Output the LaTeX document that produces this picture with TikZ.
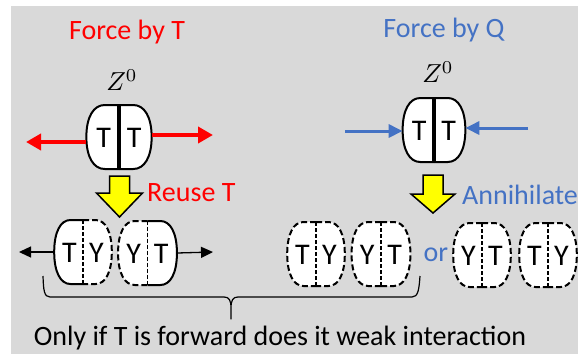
\documentclass[tikz,border=0pt]{standalone}
\usepackage{fontspec}
\setmainfont{Carlito}
\usetikzlibrary{arrows.meta}
\definecolor{qblue}{HTML}{4472C4}
\definecolor{bggray}{HTML}{D9D9D9}
\definecolor{tyellow}{HTML}{FFFF00}
\tikzset{
  solidedge/.style={draw=black, fill=white, line width=2pt},
  dashededge/.style={draw=black, fill=white, line width=2pt, dash pattern=on 6pt off 3pt},
  thickdiv/.style={line width=3.5pt},
  dashdiv/.style={line width=1.5pt, dash pattern=on 4pt off 2pt},
  letter/.style={font=\fontsize{30}{32}\selectfont, inner sep=0pt},
  big/.style={font=\fontsize{28}{30}\selectfont, inner sep=0pt},
  zlabel/.style={inner sep=0pt},
  yarrow/.style={draw=black, fill=tyellow, line width=1.5pt, line join=miter},
  redarrow/.style={red, line width=4pt, -{Triangle[length=15pt,width=16pt]}},
  bluearrow/.style={qblue, line width=3pt, -{Triangle[length=14pt,width=13pt]}},
  blackarrow/.style={black, line width=1.3pt, -{Triangle[length=12pt,width=11pt]}},
}
% barrel: name, centre, left edge, right edge, divider, left letter, right letter, xscale
\newcommand\barrel[8]{%
  \begin{scope}[shift={(#2)},xscale=#8]
    \coordinate (#1) at (0,0);
    \coordinate (#1-w) at (-32,0);
    \coordinate (#1-e) at (32,0);
    \draw[#3] (0,-32) -- (-14,-32) .. controls (-25,-32) and (-32,-20) .. (-32,0)
      .. controls (-32,20) and (-25,32) .. (-14,32) -- (0,32);
    \draw[#4] (0,-32) -- (14,-32) .. controls (25,-32) and (32,-20) .. (32,0)
      .. controls (32,20) and (25,32) .. (14,32) -- (0,32);
    \draw[#5] (0,-32) -- (0,32);
    \node[letter] (#1-l) at (-15,1) {#6};
    \node[letter] (#1-r) at (15,1) {#7};
  \end{scope}}
\begin{document}
\begin{tikzpicture}[x=1pt,y=-1pt, line join=round]
    \useasboundingbox (0,0) rectangle (578,354);
    \fill[bggray] (11,6) rectangle (578,354);
    % titles
    \node[big, red] (ft) at (127,32) {Force by T};
    \node[big, qblue] (fq) at (444,30) {Force by Q};
    \node[zlabel] (za0) at (122,80) {\scalebox{2.6}{$Z^0$}};
    \node[zlabel] (zb0) at (438,72) {\scalebox{2.6}{$Z^0$}};
    % Z0 pairs
    \barrel{za}{119,137}{solidedge}{solidedge}{thickdiv}{T}{T}{1.02}
    \barrel{zb}{434,130}{solidedge}{solidedge}{thickdiv}{T}{T}{0.98}
    \coordinate (ta) at (26,142); \coordinate (tb) at (213,135);
    \draw[redarrow] (za-w |- ta) -- (ta);
    \draw[redarrow] (za-e |- tb) -- (tb);
    \coordinate (qa) at (345,131); \coordinate (qb) at (528,128);
    \draw[bluearrow] (qa) -- (zb-w |- qa);
    \draw[bluearrow] (qb) -- (zb-e |- qb);
    % yellow arrows
    \draw[yarrow, shift={(119.5,176)}] (-10,0) -- (10,0) -- (10,17) -- (23,17) -- (0,41) -- (-23,17) -- (-10,17) -- cycle;
    \draw[yarrow, shift={(433,175)}] (-10,0) -- (10,0) -- (10,19) -- (22,19) -- (0,38) -- (-22,19) -- (-10,19) -- cycle;
    \node[big, red, anchor=west] (ru) at (147,193) {Reuse T};
    \node[big, qblue, anchor=west] (an) at (462,195) {Annihilate};
    % products
    \barrel{ba}{83,252}{solidedge}{dashededge}{dashdiv}{T}{Y}{0.9}
    \barrel{bb}{147.5,253}{dashededge}{solidedge}{dashdiv}{Y}{T}{0.92}
    \barrel{bc}{316,254}{dashededge}{dashededge}{dashdiv}{T}{Y}{0.9}
    \barrel{bd}{381,254}{dashededge}{dashededge}{dashdiv}{Y}{T}{0.92}
    \barrel{be}{482,255}{dashededge}{dashededge}{dashdiv}{Y}{T}{0.9}
    \barrel{bf}{548,255}{dashededge}{dashededge}{dashdiv}{T}{Y}{0.9}
    \coordinate (la) at (19,252); \coordinate (lb) at (213,252);
    \draw[blackarrow] (ba-w) -- (la);
    \draw[blackarrow] (bb-e) -- (lb);
    \node[big, qblue] (or) at (436,255) {or};
    % brace
    \draw[line width=1.2pt] (43,276) .. controls (43.5,290) and (44,297) .. (50,297) -- (224,297)
      .. controls (229,297) and (231,300) .. (231,308) -- (231,319) -- (231,308)
      .. controls (231,300) and (233,297) .. (238,297) -- (412,297)
      .. controls (418,297) and (419,290) .. (420,276);
    \node[big] (note) at (280,338) {Only if T is forward does it weak interaction};
\end{tikzpicture}
\end{document}
